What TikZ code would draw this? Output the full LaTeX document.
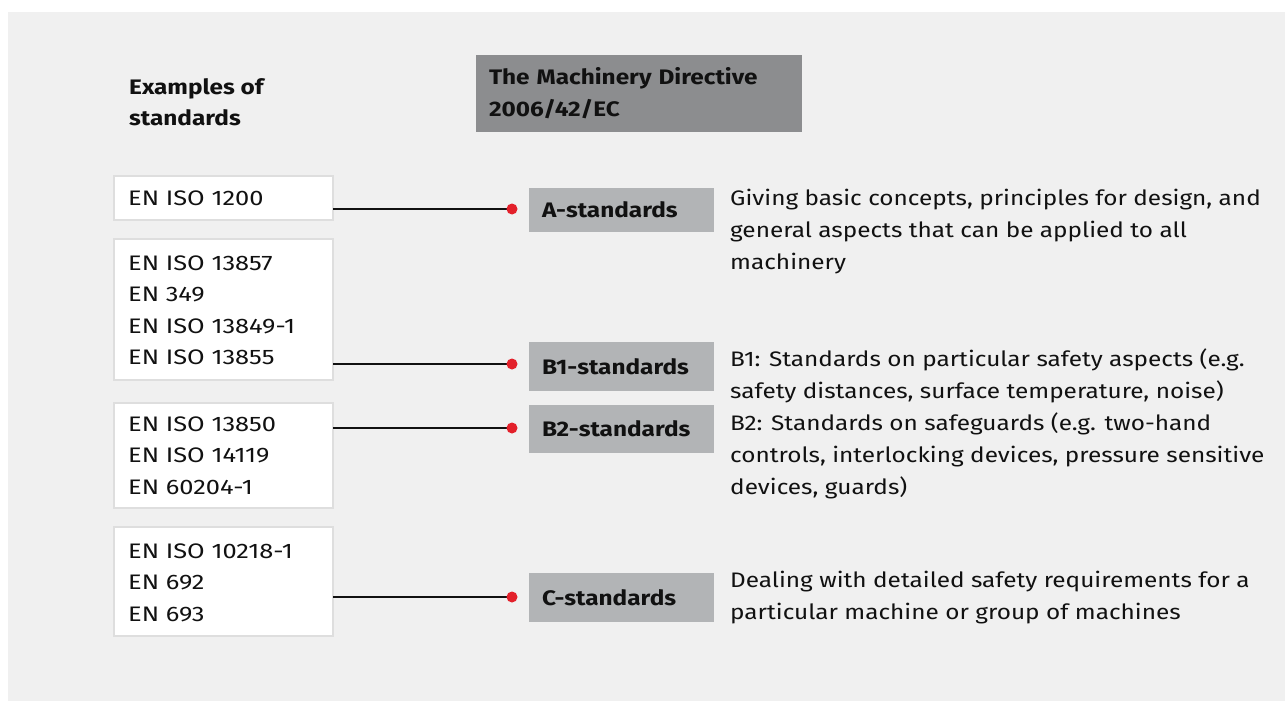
\documentclass[tikz,border=0pt]{standalone}
\usepackage{fontspec}
\setmainfont{Fira Sans}[FakeStretch=1.16]
\newfontfamily\stdfont{Fira Sans}[FakeStretch=1.21]
\definecolor{panel}{HTML}{F0F0F0}
\definecolor{wborder}{HTML}{DEDEDE}
\definecolor{lab}{HTML}{B2B4B6}
\definecolor{titlegray}{HTML}{8C8D8F}
\definecolor{reddot}{HTML}{E3202A}
\definecolor{ink}{HTML}{111111}
\begin{document}
\begin{tikzpicture}[x=1pt,y=-1pt,
  wbox/.style={draw=wborder, line width=2pt, fill=white, inner sep=0pt, outer sep=0pt, anchor=north west},
  lbox/.style={fill=lab, inner xsep=13pt, inner ysep=0pt, outer sep=0pt, anchor=north west, text width=159pt, align=left, minimum width=185pt, font=\fontsize{21}{32}\selectfont\bfseries, text=ink},
  tbox/.style={fill=titlegray, inner xsep=13pt, inner ysep=0pt, outer sep=0pt, anchor=north west, text width=300pt, align=left, minimum height=77pt, font=\fontsize{21}{32}\selectfont\bfseries, text=ink},
  stdtxt/.style={anchor=base west, inner sep=0pt, font=\stdfont\fontsize{21}{31.6}\selectfont, text=ink},
  desc/.style={anchor=base west, inner sep=0pt, font=\fontsize{21}{32}\selectfont, text=ink},
  conn/.style={draw=ink, line width=2.6pt},
  dot/.style={circle, fill=reddot, inner sep=0pt, minimum size=11pt}
]
\useasboundingbox (0,0) rectangle (1285,701);
\fill[white] (0,0) rectangle (1285,701);
\fill[panel] (8,12) rectangle (1285,701);

% heading
\node[anchor=base west, inner sep=0pt, font=\fontsize{21}{32}\selectfont\bfseries, text=ink] (head) at (129,94) {\parbox[t]{300pt}{Examples of\\standards}};

% title
\node[tbox] (title) at (476,55) {The Machinery Directive\\2006/42/EC};

% white boxes
\node[wbox, minimum width=219pt, minimum height=44pt] (s1) at (114,176) {};
\node[wbox, minimum width=219pt, minimum height=141pt] (s2) at (114,239) {};
\node[wbox, minimum width=219pt, minimum height=105pt] (s3) at (114,403) {};
\node[wbox, minimum width=219pt, minimum height=109pt] (s4) at (114,527) {};

\node[stdtxt] (t1) at (128,205) {\parbox[t]{200pt}{EN ISO 1200}};
\node[stdtxt] (t2) at (128,270) {\parbox[t]{200pt}{EN ISO 13857\\EN 349\\EN ISO 13849-1\\EN ISO 13855}};
\node[stdtxt] (t3) at (128,431) {\parbox[t]{200pt}{EN ISO 13850\\EN ISO 14119\\EN 60204-1}};
\node[stdtxt] (t4) at (128,558) {\parbox[t]{200pt}{EN ISO 10218-1\\EN 692\\EN 693}};

% label boxes
\node[lbox, minimum height=44pt] (la) at (529,188) {A-standards};
\node[lbox, minimum height=49pt] (lb1) at (529,342) {B1-standards};
\node[lbox, minimum height=48pt] (lb2) at (529,405) {B2-standards};
\node[lbox, minimum height=49pt] (lc) at (529,573) {C-standards};

% dots
\coordinate (da) at (512,209);
\coordinate (db1) at (512,364);
\coordinate (db2) at (512,428);
\coordinate (dc) at (512,597);

\draw[conn] (s1.east |- da) -- (da);
\draw[conn] (s2.east |- db1) -- (db1);
\draw[conn] (s3.east |- db2) -- (db2);
\draw[conn] (s4.east |- dc) -- (dc);
\node[dot] (pa) at (da) {};
\node[dot] (pb1) at (db1) {};
\node[dot] (pb2) at (db2) {};
\node[dot] (pc) at (dc) {};

% descriptions
\node[desc] (ga) at (730,205) {\parbox[t]{560pt}{Giving basic concepts, principles for design, and\\general aspects that can be applied to all\\machinery}};
\node[desc] (gb1) at (730,366) {\parbox[t]{560pt}{B1: Standards on particular safety aspects (e.g.\\safety distances, surface temperature, noise)}};
\node[desc] (gb2) at (730,430) {\parbox[t]{560pt}{B2: Standards on safeguards (e.g. two-hand\\controls, interlocking devices, pressure sensitive\\devices, guards)}};
\node[desc] (gc) at (730,587) {\parbox[t]{560pt}{Dealing with detailed safety requirements for a\\particular machine or group of machines}};
\end{tikzpicture}
\end{document}
